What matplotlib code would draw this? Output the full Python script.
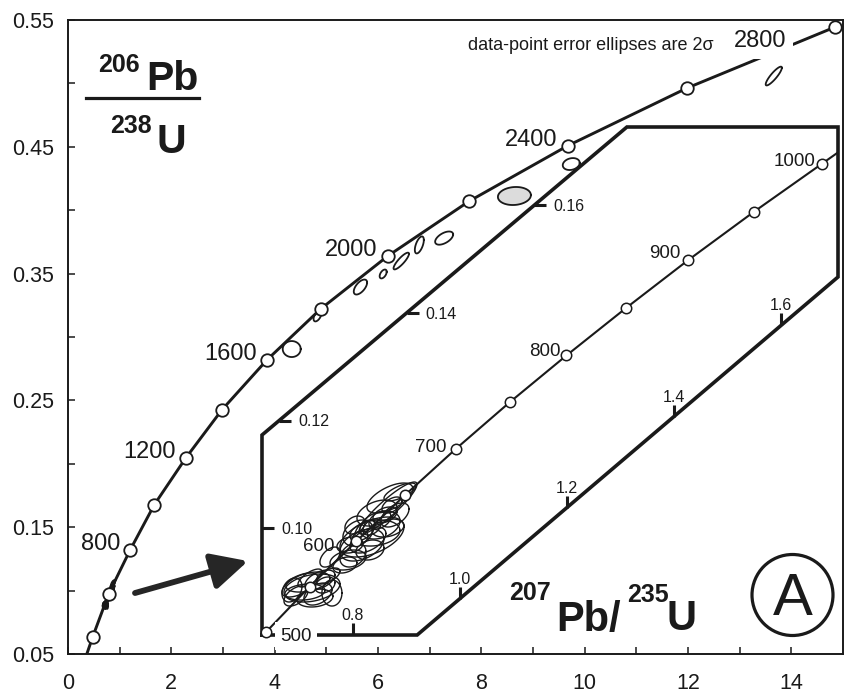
import numpy as np
import matplotlib
matplotlib.use("Agg")
import matplotlib.pyplot as plt
from matplotlib.lines import Line2D
from matplotlib.patches import Ellipse
from matplotlib.ticker import FormatStrFormatter

plt.rcParams['font.family'] = ['Liberation Sans', 'DejaVu Sans']

# ---------------- data ----------------
# main concordia nodes
main_ages = [300, 400, 600, 800, 1000, 1200, 1400, 1600, 1800, 2000, 2200, 2400, 2600, 2800]
main_r207 = [0.344, 0.48, 0.79, 1.20, 1.67, 2.28, 2.98, 3.85, 4.89, 6.19, 7.76, 9.67, 11.98, 14.85]
main_r206 = [0.0476, 0.0637, 0.0977, 0.1318, 0.1677, 0.2046, 0.2426, 0.2819, 0.3221,
             0.3639, 0.4070, 0.4508, 0.4963, 0.5445]
main_marker_ages = [400, 600, 800, 1000, 1200, 1400, 1600, 1800, 2000, 2200, 2400, 2600, 2800]
main_label_ages = [800, 1200, 1600, 2000, 2400, 2800]

# older zircon analyses (2-sigma half errors, error correlation)
old_x = [4.33, 4.83, 5.66, 6.10, 6.45, 6.80, 7.28, 8.64, 9.74, 13.66]
old_y = [0.2905, 0.3166, 0.3394, 0.3497, 0.3599, 0.3726, 0.3780, 0.4112, 0.4364, 0.5058]
old_ex = [0.174, 0.077, 0.129, 0.068, 0.149, 0.087, 0.174, 0.319, 0.164, 0.156]
old_ey = [0.0063, 0.0043, 0.0059, 0.0035, 0.0066, 0.0067, 0.0052, 0.0071, 0.0047, 0.0074]
old_rho = [0.0, 0.54, 0.6, 0.5, 0.86, 0.58, 0.55, 0.1, 0.2, 0.88]
old_filled = [False, False, False, False, False, False, False, True, False, False]

# inset concordia nodes
inset_ages = [500, 550, 600, 650, 700, 750, 800, 850, 900, 950, 1000, 1050]
inset_r207 = [0.638, 0.719, 0.806, 0.897, 0.992, 1.093, 1.199, 1.310, 1.426, 1.549, 1.677, 1.808]
inset_r206 = [0.0807, 0.0891, 0.0975, 0.1061, 0.1147, 0.1234, 0.1321, 0.1409, 0.1498,
              0.1588, 0.1678, 0.1770]
inset_marker_ages = [500, 550, 600, 650, 700, 750, 800, 850, 900, 950, 1000]
inset_label_ages = [500, 600, 700, 800, 900, 1000]

# young zircon analyses (inset)
young_x = [0.7234, 0.7009, 0.7383, 0.7103, 0.7346, 0.7196, 0.7477, 0.6935, 0.7607,
           0.7159, 0.7290, 0.6860, 0.7533,
           0.7570, 0.7907,
           0.8355, 0.8093, 0.8449, 0.8692, 0.8654, 0.8000, 0.7944, 0.8411, 0.8654,
           0.8598, 0.8280, 0.8224, 0.8131, 0.8355, 0.8505, 0.8879, 0.7850,
           0.8168, 0.8505, 0.8785, 0.8318, 0.8037, 0.8729]
young_y = [0.08884, 0.08940, 0.09033, 0.08809, 0.08772, 0.09070, 0.08940, 0.08735, 0.08791,
           0.08995, 0.08698, 0.08847, 0.09107,
           0.09460, 0.09405,
           0.09833, 0.09907, 0.10279, 0.10558, 0.10372, 0.09498, 0.09684, 0.09907, 0.10000,
           0.10242, 0.09777, 0.09963, 0.09814, 0.10019, 0.10149, 0.10670, 0.09312,
           0.09684, 0.10056, 0.10242, 0.09591, 0.10056, 0.10428]
young_ex = [0.0523, 0.0336, 0.0280, 0.0374, 0.0262, 0.0224, 0.0187, 0.0224, 0.0187,
            0.0411, 0.0336, 0.0187, 0.0224,
            0.0187, 0.0336,
            0.0598, 0.0280, 0.0374, 0.0430, 0.0542, 0.0243, 0.0243, 0.0467, 0.0299,
            0.0224, 0.0336, 0.0187, 0.0150, 0.0168, 0.0206, 0.0299, 0.0224,
            0.0411, 0.0374, 0.0262, 0.0262, 0.0187, 0.0187]
young_ey = [0.00260, 0.00223, 0.00186, 0.00149, 0.00205, 0.00167, 0.00149, 0.00186, 0.00242,
            0.00186, 0.00167, 0.00223, 0.00149,
            0.00186, 0.00186,
            0.00372, 0.00242, 0.00242, 0.00279, 0.00484, 0.00223, 0.00149, 0.00242, 0.00167,
            0.00149, 0.00242, 0.00186, 0.00130, 0.00149, 0.00167, 0.00167, 0.00149,
            0.00298, 0.00260, 0.00223, 0.00186, 0.00167, 0.00149]
young_rho = [0.3, 0.6, 0.5, 0.2, 0.4, 0.7, 0.3, 0.5, 0.0,
             0.4, 0.2, 0.3, 0.6,
             0.5, 0.3,
             0.5, 0.3, 0.4, 0.6, 0.91, 0.3, 0.2, 0.2, 0.3,
             0.4, 0.5, 0.5, 0.3, 0.4, 0.4, 0.7, 0.3,
             0.4, 0.3, 0.5, 0.2, 0.3, 0.5]

main_xticks = [0, 2, 4, 6, 8, 10, 12, 14]
main_xminor = [1, 3, 5, 7, 9, 11, 13]
main_yticks = [0.05, 0.15, 0.25, 0.35, 0.45, 0.55]
main_yminor = [0.10, 0.20, 0.30, 0.40, 0.50]
inset_xticks = [0.8, 1.0, 1.2, 1.4, 1.6]
inset_yticks = [0.10, 0.12, 0.14, 0.16]

# ---------------- helpers ----------------
W, H = 847, 699
PT = 0.72  # points per pixel at dpi 100
INK = '#1a1a1a'


def fxy(px, py):
    return px / W, 1 - py / H


def ellipse_xy(x, y, ex, ey, rho, n=120):
    t = np.linspace(0, 2 * np.pi, n)
    return (x + ex * np.cos(t),
            y + ey * (rho * np.cos(t) + np.sqrt(1 - rho ** 2) * np.sin(t)))


fig = plt.figure(figsize=(W / 100, H / 100), dpi=100)

# ---------------- main axes ----------------
ax = fig.add_axes([68 / W, (H - 654) / H, 775 / W, 634 / H])
ax.set_xlim(0, 15)
ax.set_ylim(0.05, 0.55)
ax.set_xticks(main_xticks)
ax.set_xticks(main_xminor, minor=True)
ax.set_yticks(main_yticks)
ax.set_yticks(main_yminor, minor=True)
ax.yaxis.set_major_formatter(FormatStrFormatter('%.2f'))
ax.tick_params(which='both', direction='in', length=5, width=1.1, color=INK,
               top=False, right=False)
ax.tick_params(axis='x', labelsize=15.5, pad=14, labelcolor=INK)
ax.tick_params(axis='y', labelsize=15.5, pad=10, labelcolor=INK)
for s in ax.spines.values():
    s.set_linewidth(1.4)
    s.set_color(INK)

ax.plot(main_r207, main_r206, color=INK, lw=2.1, zorder=2, solid_capstyle='butt')
mk = [main_ages.index(a) for a in main_marker_ages]
ax.plot([main_r207[i] for i in mk], [main_r206[i] for i in mk], 'o', ms=9,
        mfc='white', mec=INK, mew=1.3, zorder=3.5)

for a in main_label_ages:
    i = main_ages.index(a)
    if a == 2800:
        off = (-49 * PT, -20 * PT)
        ax.annotate(str(a), (main_r207[i], main_r206[i]), xytext=off,
                    textcoords='offset points', ha='right', va='baseline',
                    fontsize=17, color=INK, zorder=2.3,
                    bbox=dict(boxstyle='square,pad=0.3', fc='white', ec='none'))
    else:
        ax.annotate(str(a), (main_r207[i], main_r206[i]), xytext=(-10 * PT, 0),
                    textcoords='offset points', ha='right', va='baseline',
                    fontsize=17, color=INK, zorder=4)

for x, y, ex, ey, r, f in zip(old_x, old_y, old_ex, old_ey, old_rho, old_filled):
    xs, ys = ellipse_xy(x, y, ex, ey, r)
    if f:
        ax.fill(xs, ys, color='#dcdcdc', zorder=2.4)
    ax.plot(xs, ys, color=INK, lw=1.3, zorder=2.5)

# young cluster at the main scale
for x, y, ex, ey, r in zip(young_x, young_y, young_ex, young_ey, young_rho):
    xs, ys = ellipse_xy(x, y, ex, ey, r)
    ax.plot(xs, ys, color=INK, lw=1.0, zorder=2.5)

ax.annotate('', xy=(3.484, 0.1233), xytext=(1.297, 0.0981),
            arrowprops=dict(arrowstyle='-|>,head_length=1.1,head_width=0.55',
                            mutation_scale=20, lw=4.2, color='#262626',
                            shrinkA=0, shrinkB=0), zorder=4)

# ---------------- inset ----------------
ai = fig.add_axes([262 / W, (H - 635) / H, 576 / W, 508 / H])
ai.set_xlim(0.630, 1.7065)
ai.set_ylim(0.0801, 0.1746)
ai.axis('off')
ai.patch.set_visible(False)

frame_x = [0.630, 0.630, 1.312, 1.7065, 1.7065, 0.92, 0.630]
frame_y = [0.0801, 0.1173, 0.1746, 0.1746, 0.1467, 0.0801, 0.0801]
ai.plot(frame_x, frame_y, color=INK, lw=2.6, clip_on=False, zorder=2,
        solid_joinstyle='miter')

# ticks on lower boundary
lower_x = [0.630, 0.92, 1.7065]
lower_y = [0.0801, 0.0801, 0.1467]
for v in inset_xticks:
    yy = np.interp(v, lower_x, lower_y)
    ai.plot([v], [yy], marker=2, ms=12 * PT, mew=2.2, color=INK, clip_on=False, zorder=2)
    ai.annotate(f'{v:.1f}', (v, yy), xytext=(0, 15 * PT), textcoords='offset points',
                ha='center', va='baseline', fontsize=11.5, color=INK)

upper_y = [0.0801, 0.1173, 0.1746]
upper_x = [0.630, 0.630, 1.312]
for w in inset_yticks:
    xx = np.interp(w, upper_y, upper_x)
    ai.plot([xx], [w], marker=1, ms=12 * PT, mew=2.2, color=INK, clip_on=False, zorder=2)
    ai.annotate(f'{w:.2f}', (xx, w), xytext=(19 * PT, -5.7 * PT), textcoords='offset points',
                ha='left', va='baseline', fontsize=11.5, color=INK)

ai.plot(inset_r207, inset_r206, color=INK, lw=1.5, zorder=2)

for x, y, ex, ey, r in zip(young_x, young_y, young_ex, young_ey, young_rho):
    xs, ys = ellipse_xy(x, y, ex, ey, r)
    ai.plot(xs, ys, color=INK, lw=1.0, zorder=2.5)

mk = [inset_ages.index(a) for a in inset_marker_ages]
ai.plot([inset_r207[i] for i in mk], [inset_r206[i] for i in mk], 'o', ms=7.5,
        mfc='white', mec=INK, mew=1.1, zorder=3, clip_on=False)

label_off = {500: (14, -9), 600: (-22, -10), 700: (-9, -3), 800: (-6, -1),
             900: (-7, 2), 1000: (-7, -2)}
for a in inset_label_ages:
    i = inset_ages.index(a)
    dx, dy = label_off[a]
    kw = {}
    if a == 500:
        kw['bbox'] = dict(boxstyle='square,pad=0.3', fc='white', ec='none')
    ai.annotate(str(a), (inset_r207[i], inset_r206[i]), xytext=(dx * PT, dy * PT),
                textcoords='offset points', ha='left' if a == 500 else 'right',
                va='baseline', fontsize=13.5, color=INK, zorder=4, **kw)

# ---------------- figure-level texts ----------------
def ftext(px, py, s, size, weight='normal', **kw):
    fig.text(*fxy(px, py), s, fontsize=size, fontweight=weight, color=INK,
             ha='left', va='baseline', **kw)

ftext(98, 72, '206', 18, 'bold')
ftext(146, 90, 'Pb', 29.5, 'bold')
ftext(110, 133, '238', 18, 'bold')
ftext(156, 153, 'U', 29.5, 'bold')
fig.add_artist(Line2D([86 / W, 199 / W], [1 - 98 / H, 1 - 98 / H],
                      transform=fig.transFigure, lw=2.3, color=INK))

ftext(509, 600, '207', 18, 'bold')
ftext(556, 631, 'Pb/', 30, 'bold')
ftext(627, 602, '235', 18, 'bold')
ftext(666, 630, 'U', 30, 'bold')

ftext(468, 50, 'data-point error ellipses are 2σ', 13)

fig.add_artist(Ellipse(fxy(792.5, 595), 81 / W, 81 / H, transform=fig.transFigure,
                       fill=False, lw=2.3, ec=INK))
fig.text(*fxy(792.5, 615), 'A', fontsize=43, color=INK, ha='center', va='baseline')

fig.savefig('out.png', dpi=100)
